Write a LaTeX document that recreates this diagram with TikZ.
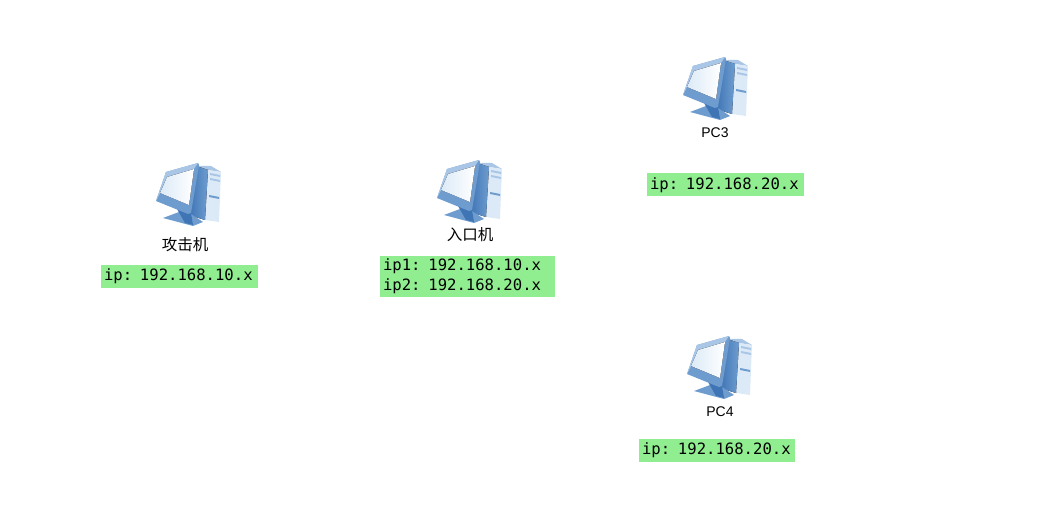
\documentclass[tikz,border=0pt]{standalone}
\usepackage{fontspec}
\usepackage{xcolor}
\usetikzlibrary{positioning}
\setmainfont{Liberation Sans}
\setmonofont{DejaVu Sans Mono}
\newfontfamily\cjkfont{Noto Sans CJK SC}
\definecolor{ipgreen}{HTML}{90EE90}
\definecolor{pcdark}{HTML}{3F75B5}
\definecolor{pcmid}{HTML}{6E9CCF}
\definecolor{pclight}{HTML}{A9C6E6}
\definecolor{pcpale}{HTML}{DCEAF7}

\begin{document}
\begin{tikzpicture}[x=1pt, y=-1pt,
    namelabel/.style={inner sep=0pt, font=\fontsize{14}{16}\selectfont},
    cjklabel/.style={inner sep=0pt, font=\cjkfont\fontsize{15.5}{17}\selectfont},
    ipbox/.style={fill=ipgreen, inner xsep=3pt, inner ysep=0pt, minimum height=23pt, font=\ttfamily\fontsize{15.6}{20}\selectfont, align=left},
    pcicon/.pic={
        % tower
        \fill [pclight] (44,3) -- (56,3) -- (66,9) -- (53,7) -- cycle;
        \fill [pcpale] (53,7) -- (66,9) -- (64,59) -- (50,57) -- cycle;
        \fill [pclight] (55,10) -- (65,12) -- (65,14) -- (55,12) -- cycle;
        \fill [pclight] (55,15) -- (65,17) -- (65,19) -- (55,17) -- cycle;
        \fill [pcmid] (54,32) -- (64,34) -- (64,36) -- (54,34) -- cycle;
        \fill [left color=pcdark, right color=pcmid] (42,3) -- (53,7) -- (50,57) -- (34,52) -- cycle;
        % stand
        \fill [pcmid] (8,55) -- (24,49) -- (36,51) -- (48,59) -- (38,63) -- cycle;
        \fill [pcdark] (22,46) -- (36,50) -- (38,62) -- (30,60) -- cycle;
        % monitor
        \fill [pcmid] (11,9) -- (43,0) -- (44,2) -- (36,50) -- (33,51) -- (1,38) -- cycle;
        \fill [pclight] (11,9) -- (43,0) -- (39,6) -- (12,14) -- (5,30) -- (1,38) -- cycle;
        \fill [left color=pcpale, right color=white] (12,14) -- (39,6) -- (34,42) -- (5,30) -- cycle;
        \coordinate (-base) at (33,63);
    }]
    \useasboundingbox (0,0) rectangle (1050,529);

    \pic (attacker) at (155,163) {pcicon};
    \pic (entry) at (436,160) {pcicon};
    \pic (pcthree) at (682,57) {pcicon};
    \pic (pcfour) at (686,336) {pcicon};

    \node [cjklabel, below=11pt of attacker-base, xshift=-3pt] (attackerlabel) {攻击机};
    \node [cjklabel, below=4pt of entry-base, xshift=1pt] (entrylabel) {入口机};
    \node [namelabel, below=8pt of pcthree-base] (pcthreelabel) {PC3};
    \node [namelabel, below=8pt of pcfour-base, xshift=1pt] (pcfourlabel) {PC4};

    \node [ipbox, text width=151pt] (attackerip) at (179.5,276.5) {ip: 192.168.10.x};
    \node [ipbox, text width=169pt, minimum height=41pt] (entryip) at (467.5,276.5) {ip1: 192.168.10.x\\ip2: 192.168.20.x};
    \node [ipbox, text width=151pt] (pcthreeip) at (725.5,185) {ip: 192.168.20.x};
    \node [ipbox, text width=150pt] (pcfourip) at (717,450) {ip: 192.168.20.x};
\end{tikzpicture}
\end{document}
